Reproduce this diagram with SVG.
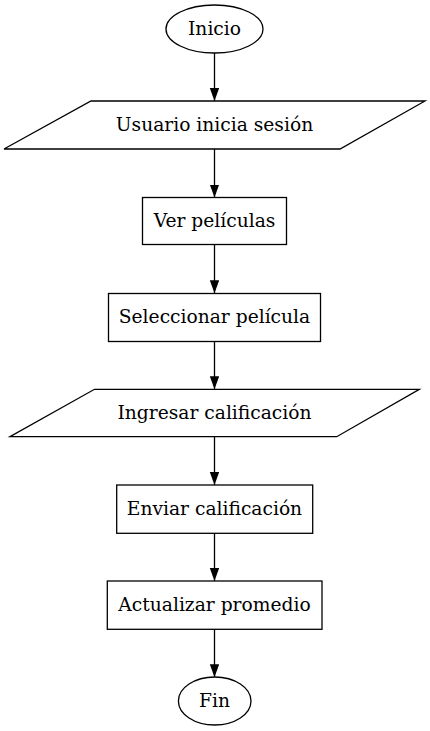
<svg xmlns="http://www.w3.org/2000/svg" width="430" height="731" viewBox="0 0 430 731">
<style>
.n{fill:#fff;stroke:#000;stroke-width:1.3}
.t{font-family:"DejaVu Serif",serif;font-size:18.67px;text-anchor:middle;fill:#000}
.e{stroke:#000;stroke-width:1.3;fill:none}
</style>
<defs>
<marker id="ah" markerUnits="userSpaceOnUse" markerWidth="14" markerHeight="10" refX="13" refY="4.7" orient="auto">
<path d="M0,0 L13,4.7 L0,9.4 Z" fill="#000"/>
</marker>
</defs>
<rect width="430" height="731" fill="#fff"/>
<g id="connectors">
<line class="e" x1="214.5" y1="53" x2="214.5" y2="101" marker-end="url(#ah)"/>
<line class="e" x1="214.5" y1="149" x2="214.5" y2="197.5" marker-end="url(#ah)"/>
<line class="e" x1="214.5" y1="244.5" x2="214.5" y2="293.3" marker-end="url(#ah)"/>
<line class="e" x1="214.5" y1="341.3" x2="214.5" y2="389.3" marker-end="url(#ah)"/>
<line class="e" x1="214.5" y1="436.7" x2="214.5" y2="485" marker-end="url(#ah)"/>
<line class="e" x1="214.5" y1="533.3" x2="214.5" y2="581" marker-end="url(#ah)"/>
<line class="e" x1="214.5" y1="629.3" x2="214.5" y2="677.3" marker-end="url(#ah)"/>
</g>
<g id="inicio">
<ellipse class="n" cx="214.5" cy="29" rx="48.5" ry="24"/>
<text class="t" x="214.5" y="35">Inicio</text>
</g>
<g id="login">
<polygon class="n" points="91,101 425,101 340,149 4,149"/>
<text class="t" x="214.5" y="131">Usuario inicia sesión</text>
</g>
<g id="ver">
<rect class="n" x="142.5" y="197.5" width="144" height="47"/>
<text class="t" x="214.5" y="227">Ver películas</text>
</g>
<g id="seleccionar">
<rect class="n" x="108.5" y="293.5" width="212" height="48"/>
<text class="t" x="214.5" y="323">Seleccionar película</text>
</g>
<g id="ingresar">
<polygon class="n" points="94.5,389.3 419.3,389.3 336.7,436.7 10,436.7"/>
<text class="t" x="214.5" y="419">Ingresar calificación</text>
</g>
<g id="enviar">
<rect class="n" x="116.7" y="485" width="196" height="48.3"/>
<text class="t" x="214.5" y="515">Enviar calificación</text>
</g>
<g id="actualizar">
<rect class="n" x="107.3" y="581" width="214.7" height="48.3"/>
<text class="t" x="214.5" y="611">Actualizar promedio</text>
</g>
<g id="fin">
<ellipse class="n" cx="214.7" cy="701" rx="36.3" ry="24"/>
<text class="t" x="214.5" y="707">Fin</text>
</g>
</svg>
